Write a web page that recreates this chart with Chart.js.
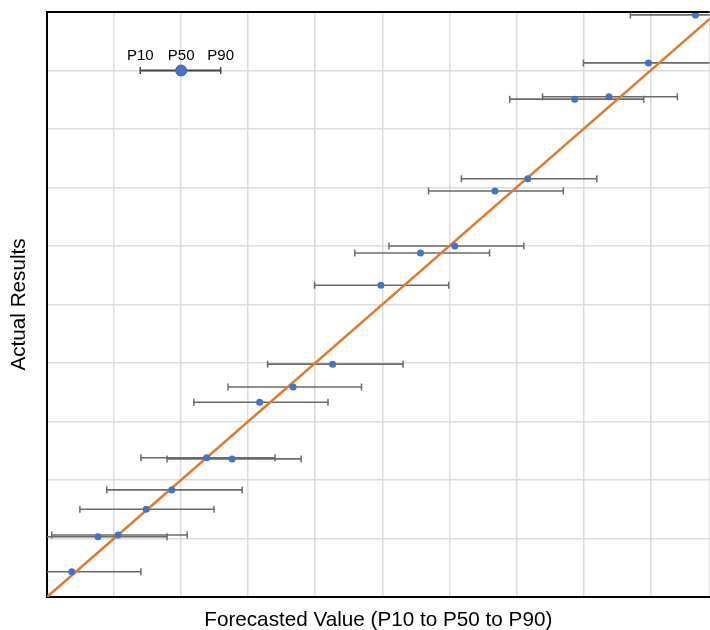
<!DOCTYPE html>
<html>
<head>
<meta charset="utf-8">
<script src="https://cdn.jsdelivr.net/npm/chart.js@4"></script>
<style>
  html, body { margin: 0; padding: 0; background: #fff; overflow: hidden; }
  #wrap { width: 710px; height: 630px; overflow: hidden; }
</style>
</head>
<body>
<div id="wrap"><canvas id="forecastChart" width="716" height="630"></canvas></div>
<script>
// forecast percentiles (x) and actual outcome (y)
const p10    = [8.70, 8.00, 7.39, 6.90, 6.18, 5.69, 5.10, 4.59, 3.99, 3.29, 2.70, 2.19, 1.40, 1.79, 0.89, 0.49, -0.24, 0.07, -0.63];
const p50    = [9.67, 8.97, 8.38, 7.87, 7.17, 6.68, 6.08, 5.57, 4.98, 4.26, 3.67, 3.17, 2.38, 2.76, 1.86, 1.48, 0.76, 1.06, 0.37];
const p90    = [10.65, 9.97, 9.40, 8.90, 8.20, 7.70, 7.11, 6.60, 5.99, 5.31, 4.69, 4.19, 3.40, 3.79, 2.91, 2.49, 1.79, 2.09, 1.40];
const actual = [9.95, 9.13, 8.55, 8.51, 7.15, 6.94, 6.00, 5.88, 5.33, 3.98, 3.59, 3.33, 2.38, 2.36, 1.83, 1.50, 1.03, 1.06, 0.43];

// the little key in the top left corner
const keyLabels = ['P10', 'P50', 'P90'];
const keyValues = [1.39, 2.0, 2.59];
const keyY = 9.0;

// perfect-forecast line
const diagonal = [0, 10];

const errorBars = [];
p50.forEach((v, i) => {
    errorBars.push({x: p10[i], y: actual[i]});
    errorBars.push({x: p90[i], y: actual[i]});
    errorBars.push({x: null, y: null});
});

const medians = p50.map((v, i) => ({x: v, y: actual[i]}));

const frameAndKey = {
    id: 'frameAndKey',
    afterDatasetsDraw(chart) {
        const {ctx, chartArea, scales} = chart;
        ctx.save();
        // top frame line like the original
        ctx.strokeStyle = '#000';
        ctx.lineWidth = 2;
        ctx.beginPath();
        ctx.moveTo(chartArea.left - 1, chartArea.top);
        ctx.lineTo(chartArea.right, chartArea.top);
        ctx.stroke();

        ctx.fillStyle = '#000';
        ctx.font = '15px "Liberation Sans", Arial, sans-serif';
        ctx.textAlign = 'center';
        ctx.textBaseline = 'alphabetic';
        const y = scales.y.getPixelForValue(keyY) - 10;
        keyLabels.forEach((label, i) => {
            ctx.fillText(label, scales.x.getPixelForValue(keyValues[i]), y);
        });
        ctx.restore();
    }
};

new Chart(document.getElementById('forecastChart'), {
    type: 'scatter',
    data: {
        datasets: [
            {
                label: 'P50',
                data: medians,
                order: 0,
                pointRadius: 3.5,
                pointBackgroundColor: '#4472C4',
                pointBorderColor: '#4472C4',
                pointBorderWidth: 0,
                clip: false
            },
            {
                label: 'Key',
                data: [{x: keyValues[1], y: keyY}],
                order: 0,
                pointRadius: 5.5,
                pointBackgroundColor: '#4472C4',
                pointBorderColor: '#3A62AE',
                pointBorderWidth: 1
            },
            {
                label: 'Perfect forecast',
                data: diagonal.map(v => ({x: v, y: v})),
                order: 1,
                showLine: true,
                borderColor: '#DF7A2E',
                borderWidth: 2.5,
                pointRadius: 0
            },
            {
                label: 'Key range',
                data: [{x: keyValues[0], y: keyY}, {x: keyValues[2], y: keyY}],
                order: 2,
                showLine: true,
                borderColor: '#444',
                borderWidth: 2,
                pointStyle: 'line',
                pointRotation: 90,
                pointRadius: 3.5,
                pointBorderColor: '#444',
                pointBorderWidth: 1.5
            },
            {
                label: 'P10 - P90',
                data: errorBars,
                order: 2,
                showLine: true,
                spanGaps: false,
                borderColor: '#6a6a6a',
                borderWidth: 1.6,
                pointStyle: 'line',
                pointRotation: 90,
                pointRadius: 3.5,
                pointBorderColor: '#6a6a6a',
                pointBorderWidth: 1.5
            }
        ]
    },
    options: {
        responsive: false,
        animation: false,
        layout: { padding: { left: 0, right: 0, top: 12, bottom: 0 } },
        plugins: {
            legend: { display: false },
            tooltip: { enabled: false }
        },
        scales: {
            x: {
                type: 'linear',
                min: 0,
                max: 9.88,
                ticks: { display: false, stepSize: 1 },
                grid: { color: '#dcdcdc', lineWidth: 1.5, drawTicks: false },
                border: { color: '#000', width: 2 },
                title: {
                    display: true,
                    text: 'Forecasted Value (P10 to P50 to P90)',
                    color: '#000',
                    font: { family: '"Liberation Sans", Arial, sans-serif', size: 20.7, lineHeight: 0.9 },
                    padding: { top: 14.4, bottom: 0 }
                }
            },
            y: {
                type: 'linear',
                min: 0,
                max: 10,
                ticks: { display: false, stepSize: 1 },
                grid: { color: '#dcdcdc', lineWidth: 1.5, drawTicks: false },
                border: { color: '#000', width: 2 },
                title: {
                    display: true,
                    text: 'Actual Results',
                    color: '#000',
                    font: { family: '"Liberation Sans", Arial, sans-serif', size: 20.7, lineHeight: 1.2 },
                    padding: { top: 7, bottom: 15.2 }
                }
            }
        }
    },
    plugins: [frameAndKey]
});
</script>
</body>
</html>
